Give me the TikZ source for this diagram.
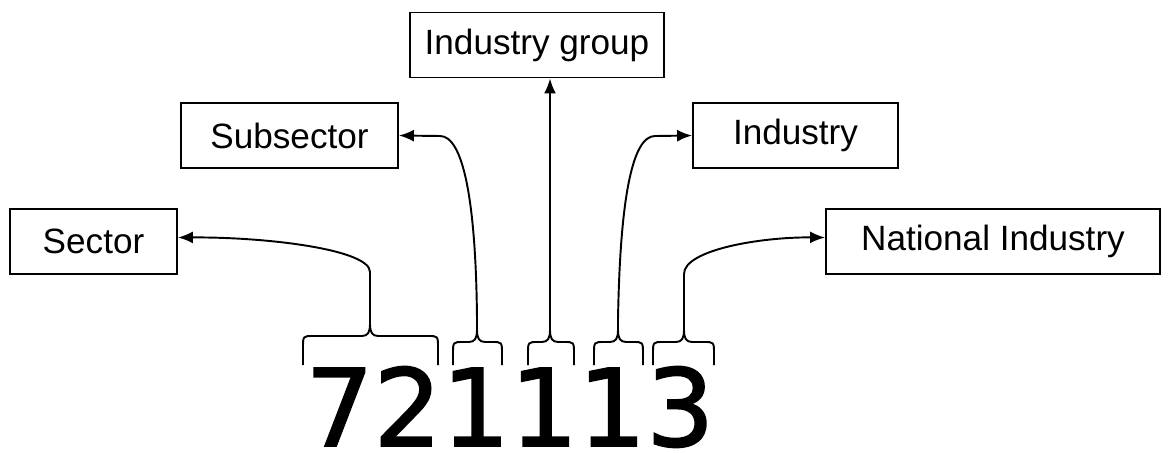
\documentclass[tikz,border=0pt]{standalone}
\usepackage{fontspec}
\setmainfont{Liberation Sans}
\newfontfamily\digitfont[FakeBold=1.6]{DejaVu Sans}
\usetikzlibrary{arrows.meta}
\def\tipY{320}
\def\endY{365}
\newcommand{\digitbrace}[5]{
	%#1 name, #2 left, #3 right, #4 tip x, #5 flat y
	\draw[brace] (#2,\endY) -- (#2,{#5+12}) .. controls (#2,#5) and (#2,#5) .. ({#2+10},#5) -- ({#4-8},#5)
		.. controls ({#4-2},#5) and (#4,{#5-4}) .. (#4,{#5-12}) -- (#4,\tipY) -- (#4,{#5-12})
		.. controls (#4,{#5-4}) and ({#4+2},#5) .. ({#4+8},#5) -- ({#3-10},#5)
		.. controls (#3,#5) and (#3,#5) .. (#3,{#5+12}) -- (#3,\endY);
	\coordinate (#1) at (#4,\tipY);
}

\begin{document}
\begin{tikzpicture}[x=0.02cm, y=-0.02cm,
	catbox/.style={draw, line width=1.1pt, minimum height=1.3cm, inner sep=0pt, font=\fontsize{20}{24}\selectfont},
	link/.style={line width=1.1pt, -{Latex[length=0.3cm,width=0.24cm]}},
	brace/.style={line width=1.1pt}]

	\useasboundingbox (0,0) rectangle (1171,453);

	%category boxes
	\node[catbox, minimum width=3.34cm] (sector) at (93.5,241.5) {Sector};
	\node[catbox, minimum width=4.34cm] (subsector) at (289.5,135.5) {Subsector};
	\node[catbox, minimum width=5.08cm] (group) at (537,45) {Industry group};
	\node[catbox, minimum width=4.1cm] (industry) at (795.5,135.5) {Industry};
	\node[catbox, minimum width=6.68cm] (national) at (993,241.5) {National Industry};

	%the code itself
	\node[anchor=base, inner sep=0pt, font=\digitfont\fontsize{61}{61}\selectfont] (code) at (510,446) {721113};

	%braces over the digits
	\digitbrace{tipSector}{303}{438}{370}{336}
	\foreach \l/\r/\t/\n in {453/502/477/tipSub, 528/574/550/tipGroup, 594/643/618/tipInd, 653/714/684/tipNat}
		{\digitbrace{\n}{\l}{\r}{\t}{342}}

	%links up to the boxes
	\draw[link] (tipSector) -- (370,272) .. controls (370,250) and (270,237) .. ([yshift=0.08cm]sector.east);
	\draw[link] (tipSub) .. controls (476,200) and (463,136) .. (440,136) -- (subsector.east);
	\draw[link] (tipGroup) -- (tipGroup |- group.south);
	\draw[link] (tipInd) .. controls (620,200) and (632,136) .. (655,136) -- (industry.west);
	\draw[link] (tipNat) -- (684,274) .. controls (684,250) and (760,237) .. ([yshift=0.08cm]national.west);

\end{tikzpicture}
\end{document}
